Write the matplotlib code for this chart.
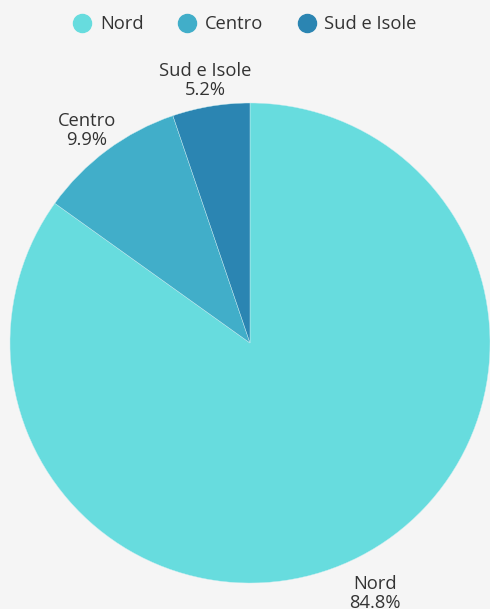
import matplotlib.pyplot as plt
from matplotlib.lines import Line2D

plt.rcParams['font.family'] = ['Open Sans', 'DejaVu Sans']

regions = ["Nord", "Centro", "Sud e Isole"]
shares = [84.8, 9.9, 5.2]
colors = ["#67dcde", "#41aec9", "#2b85b2"]

fig = plt.figure(figsize=(4.9, 6.09), dpi=100, facecolor="#f5f5f5")
ax = fig.add_axes([0, 0, 1, 1])
ax.set_facecolor("#f5f5f5")

r_px = 240.0
cx, cy = 250.0, 343.0

labels = [f"{n}\n{v}%" for n, v in zip(regions, shares)]
wedges, texts = ax.pie(shares, colors=colors, startangle=90, counterclock=False,
                       labels=labels, labeldistance=1.14, radius=1.0,
                       wedgeprops=dict(linewidth=0.3, edgecolor="#c8eef2"),
                       textprops=dict(fontsize=13.2, color="#333333", linespacing=1.1))
for t in texts:
    t.set_ha("center")
    t.set_va("center")
    x, y = t.get_position()
    t.set_position((x, y - 0.03))

ax.set_xlim(-cx / r_px, (490 - cx) / r_px)
ax.set_ylim(-(609 - cy) / r_px, cy / r_px)
ax.set_aspect("equal")
ax.axis("off")

handles = [Line2D([], [], marker="o", linestyle="none", markersize=13,
                  markerfacecolor=c, markeredgecolor=c) for c in colors]
fig.legend(handles, regions, loc="center", bbox_to_anchor=(0.5, 1 - 24 / 609),
           ncol=3, frameon=False, fontsize=13.2, handlelength=1.0,
           handletextpad=0.45, columnspacing=1.9, labelcolor="#333333")

fig.savefig("out.png", dpi=100, facecolor=fig.get_facecolor())
